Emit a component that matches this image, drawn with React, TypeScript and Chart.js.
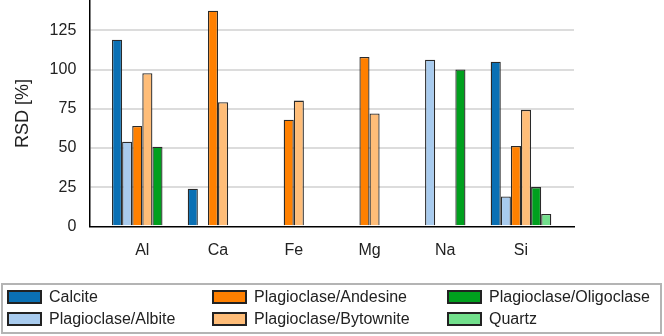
import React, { useEffect, useRef } from 'react';
import { Chart, registerables } from 'chart.js';

Chart.register(...registerables);

const categories = ['Al', 'Ca', 'Fe', 'Mg', 'Na', 'Si'];
const calcite = [119, 24, null, null, null, 105];
const albite = [54, null, null, null, 106.3, 19];
const andesine = [64, 137.5, 68, 108, null, 51.3];
const bytownite = [97.7, 79.2, 80.2, 72, null, 74.3];
const oligoclase = [50.8, null, null, null, 100, 25];
const quartz = [null, null, null, null, null, 7.8];

const seriesNames = [
  'Calcite',
  'Plagioclase/Albite',
  'Plagioclase/Andesine',
  'Plagioclase/Bytownite',
  'Plagioclase/Oligoclase',
  'Quartz',
];
const seriesValues = [calcite, albite, andesine, bytownite, oligoclase, quartz];
const seriesColors = ['#0a70b4', '#a8cbee', '#ff8000', '#ffbd78', '#00a01e', '#72e08c'];
const yTickValues = [0, 25, 50, 75, 100, 125];
const yTitle = 'RSD [%]';

const FONT = "'Liberation Sans', Arial, sans-serif";
const TOP_SHIFT = 22;

export default function App() {
  const ref = useRef<HTMLCanvasElement | null>(null);

  useEffect(() => {
    document.body.style.margin = '0';
    const ctx = ref.current;
    if (!ctx) return;
    const chart = new Chart(ctx, {
      type: 'bar',
      data: {
        datasets: seriesNames.map((name, s) => ({
          label: name,
          data: categories.map((_, i) => ({ x: i, y: seriesValues[s][i] })),
          backgroundColor: seriesColors[s],
          borderColor: '#2a2a2a',
          borderWidth: 1.3,
          categoryPercentage: 0.8,
          barPercentage: 1.0,
        })),
      },
      options: {
        animation: false,
        responsive: false,
        maintainAspectRatio: false,
        layout: { padding: { left: 8, right: 90, top: 0, bottom: 60.5 } },
        plugins: { legend: { display: false }, tooltip: { enabled: false } },
        scales: {
          x: {
            type: 'linear',
            offset: false,
            min: -0.7,
            max: 5.7,
            afterBuildTicks: (axis: any) => {
              axis.ticks = categories.map((_, i) => ({ value: i }));
            },
            ticks: {
              autoSkip: false,
              padding: 15,
              color: '#222',
              font: { family: FONT, size: 16 },
              callback: (v: any) => categories[Number(v)] ?? '',
            },
            grid: { display: false, drawTicks: false, offset: false },
            border: { display: true, color: '#000', width: 1.5 },
          },
          y: {
            min: 0,
            max: 144,
            afterBuildTicks: (axis: any) => {
              axis.ticks = yTickValues.map((v) => ({ value: v }));
            },
            ticks: {
              padding: 13,
              color: '#222',
              font: { family: FONT, size: 16 },
            },
            grid: {
              drawTicks: false,
              color: (c: any) => (c.tick && c.tick.value === 0 ? 'rgba(0,0,0,0)' : '#dcdcdc'),
              lineWidth: 2,
            },
            border: { display: true, color: '#000', width: 1.5 },
            title: {
              display: true,
              text: yTitle,
              color: '#222',
              font: { family: FONT, size: 18 },
              padding: { top: 4, bottom: 3 },
            },
          },
        },
      },
    });
    return () => chart.destroy();
  }, []);

  const colX = [7, 212, 447];
  const rowY = [297, 319];

  return (
    <div style={{ position: 'fixed', left: 0, top: 0, width: 664, height: 336, overflow: 'hidden', background: '#fff' }}>
      <canvas
        ref={ref}
        width={664}
        height={336 + TOP_SHIFT}
        style={{ position: 'absolute', left: 0, top: -TOP_SHIFT, width: 664, height: 336 + TOP_SHIFT }}
      />
      <div
        style={{
          position: 'absolute',
          left: 1,
          top: 283,
          width: 657,
          height: 47,
          border: '2px solid #b4b4b4',
        }}
      />
      {seriesNames.map((name, s) => {
        const col = Math.floor(s / 2);
        const row = s % 2;
        return (
          <div
            key={name}
            style={{
              position: 'absolute',
              left: colX[col],
              top: rowY[row] - 10,
              height: 20,
              display: 'flex',
              alignItems: 'center',
              fontFamily: FONT,
              fontSize: 16,
              color: '#222',
              whiteSpace: 'nowrap',
            }}
          >
            <span
              style={{
                display: 'inline-block',
                width: 31,
                height: 10,
                background: seriesColors[s],
                border: '2px solid #222',
                marginRight: 7,
              }}
            />
            <span>{name}</span>
          </div>
        );
      })}
    </div>
  );
}
